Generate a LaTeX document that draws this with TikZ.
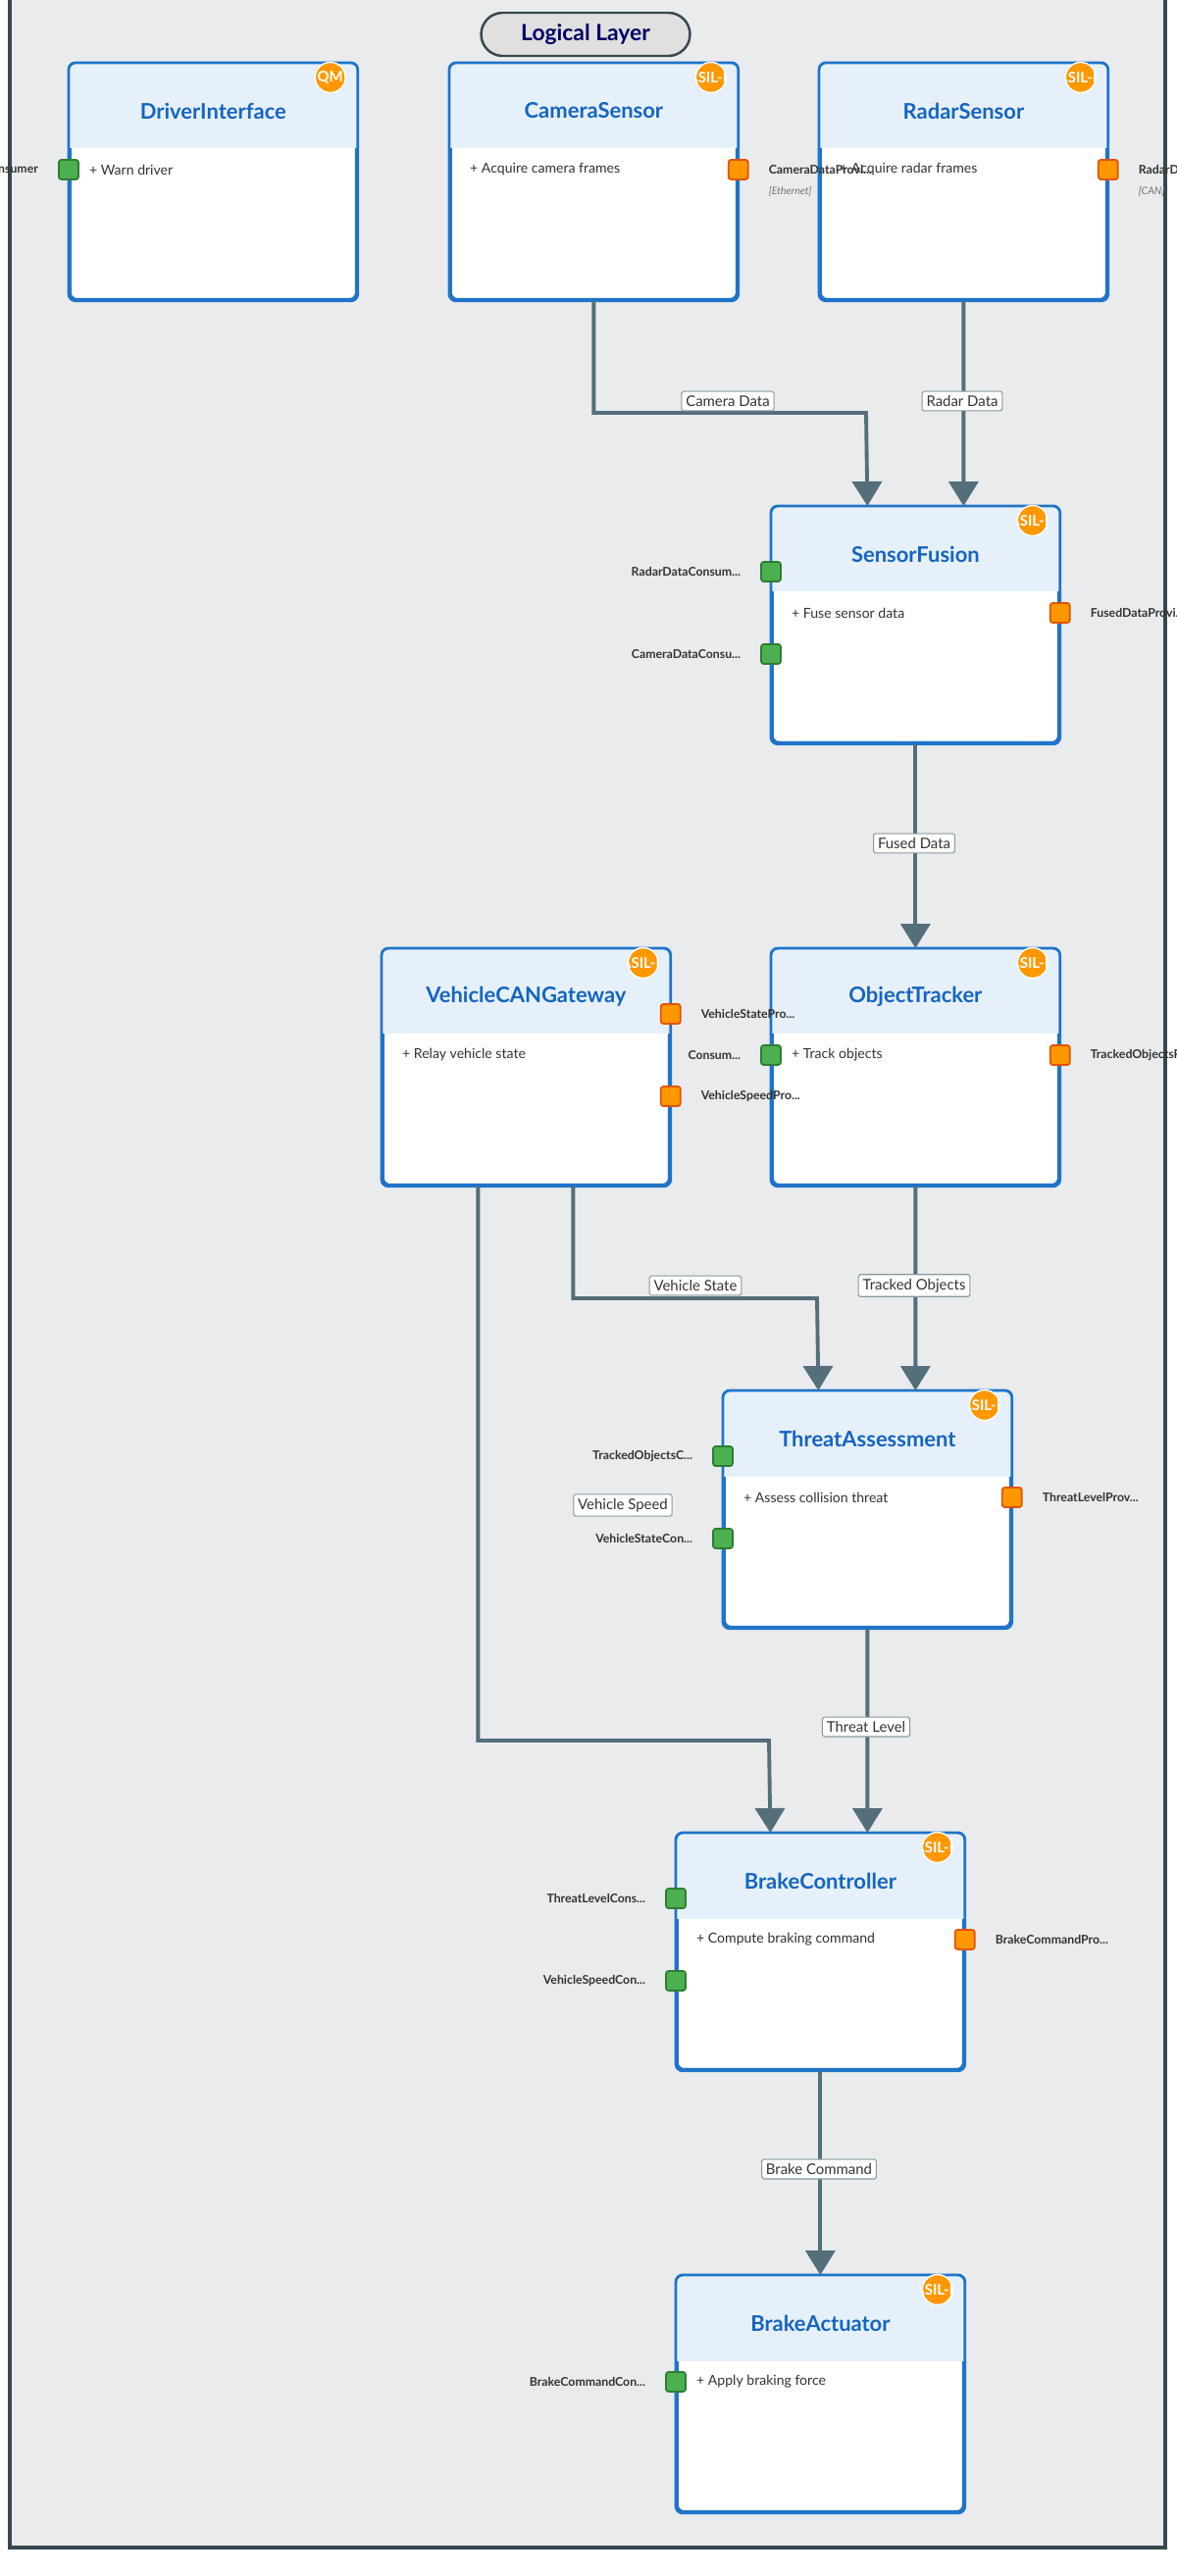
\documentclass[tikz,border=0pt]{standalone}
\usepackage{fontspec}
\setmainfont{Lato}
\usetikzlibrary{arrows.meta,positioning}
\definecolor{layerbg}{HTML}{E9EBED}
\definecolor{frameln}{HTML}{37474F}
\definecolor{boxln}{HTML}{1F74C9}
\definecolor{hdrfill}{HTML}{E6F0FA}
\definecolor{titleblue}{HTML}{1565C0}
\definecolor{edgeln}{HTML}{546E7A}
\definecolor{provfill}{HTML}{FF9800}
\definecolor{provln}{HTML}{E65100}
\definecolor{consfill}{HTML}{4CAF50}
\definecolor{consln}{HTML}{2E7D32}
\definecolor{badge}{HTML}{FF9800}
\tikzset{
  comp/.style={draw=boxln,line width=1.6pt,rounded corners=4pt,fill=white,
    minimum width=5.84cm,minimum height=4.8cm,inner sep=0pt,anchor=north west},
  ctitle/.style={font=\fontsize{12.5}{14}\selectfont\bfseries,text=titleblue},
  cop/.style={font=\fontsize{8}{10}\selectfont,text=black!80,anchor=west},
  prov/.style={draw=provln,fill=provfill,line width=1pt,rounded corners=1.5pt,minimum size=0.4cm,inner sep=0pt},
  cons/.style={draw=consln,fill=consfill,line width=1pt,rounded corners=1.5pt,minimum size=0.4cm,inner sep=0pt},
  plabel/.style={font=\fontsize{7}{8}\selectfont\bfseries,text=black!80},
  ptype/.style={font=\fontsize{6}{7}\selectfont\itshape,text=black!55,anchor=north west},
  flow/.style={draw=edgeln,line width=2.2pt,-{Triangle[width=0.6cm,length=0.5cm]}},
  elabel/.style={draw=edgeln!70,fill=white,rounded corners=1pt,line width=0.6pt,
    font=\fontsize{8.5}{10}\selectfont,text=black!80,inner sep=2.5pt}
}
% component box: name, x, y, title, operation, badge
\newcommand{\comp}[6]{%
  \node[comp] (#1) at (#2,#3) {};
  \begin{scope}
    \clip ([yshift=1cm]#1.north west) rectangle ([yshift=-1.74cm]#1.north east);
    \fill[hdrfill,rounded corners=4pt] (#1.north west) rectangle (#1.south east);
  \end{scope}
  \draw[boxln,line width=1.6pt,rounded corners=4pt] (#1.north west) rectangle (#1.south east);
  \node[ctitle] at ([yshift=-0.98cm]#1.north) {#4};
  \node[cop] at ([xshift=0.3cm,yshift=-2.18cm]#1.north west) {+ #5};
  \begin{scope}
    \clip ([xshift=-0.56cm,yshift=-0.3cm]#1.north east) circle (0.3cm);
    \fill[badge] ([xshift=-0.56cm,yshift=-0.3cm]#1.north east) circle (0.3cm);
    \node[font=\fontsize{8.5}{9}\selectfont\bfseries,text=white] at ([xshift=-0.56cm,yshift=-0.3cm]#1.north east) {#6};
  \end{scope}
  \draw[white,line width=0.8pt] ([xshift=-0.56cm,yshift=-0.3cm]#1.north east) circle (0.31cm);
}

\begin{document}
\begin{tikzpicture}[x=0.02cm,y=-0.02cm]
\useasboundingbox (0,0) rectangle (1200,2627);
\fill[white] (0,0) rectangle (1200,2627);
\draw[frameln,line width=1.8pt,fill=layerbg] (10,-10) rectangle (1188,2598);
\node[draw=frameln,line width=1.4pt,fill=black!12,rounded corners=0.44cm,
  minimum width=4.26cm,minimum height=0.88cm,font=\fontsize{13}{15}\selectfont\bfseries,
  text=blue!40!black] (layer) at (597,35) {Logical Layer};

% components
\comp{drv}{70}{64}{DriverInterface}{Warn driver}{QM}
\comp{cam}{458}{64}{CameraSensor}{Acquire camera frames}{ASIL-D}
\comp{rad}{835}{64}{RadarSensor}{Acquire radar frames}{ASIL-D}
\comp{fus}{786}{516}{SensorFusion}{Fuse sensor data}{ASIL-D}
\comp{obj}{786}{967}{ObjectTracker}{Track objects}{ASIL-D}
\comp{gw}{389}{967}{VehicleCANGateway}{Relay vehicle state}{ASIL-B}
\comp{thr}{737}{1418}{ThreatAssessment}{Assess collision threat}{ASIL-D}
\comp{brc}{689}{1869}{BrakeController}{Compute braking command}{ASIL-D}
\comp{bra}{689}{2320}{BrakeActuator}{Apply braking force}{ASIL-D}

% ports
\node[cons] (drvIn) at ([yshift=-2.18cm]drv.north west) {};
\node[plabel,anchor=east] at ([xshift=-0.28cm]drvIn.west) {DriverWarningConsumer};
\node[prov] (camOut) at ([yshift=-2.18cm]cam.north east) {};
\node[plabel,anchor=west] (camOutL) at ([xshift=0.28cm]camOut.east) {CameraDataProvi...};
\node[ptype] at (camOutL.south west) {[Ethernet]};
\node[prov] (radOut) at ([yshift=-2.18cm]rad.north east) {};
\node[plabel,anchor=west] (radOutL) at ([xshift=0.28cm]radOut.east) {RadarDataProvi...};
\node[ptype] at (radOutL.south west) {[CAN]};
\node[cons] (fusIn1) at ([yshift=-1.34cm]fus.north west) {};
\node[plabel,anchor=east] at ([xshift=-0.28cm]fusIn1.west) {RadarDataConsum...};
\node[cons] (fusIn2) at ([yshift=-3.02cm]fus.north west) {};
\node[plabel,anchor=east] at ([xshift=-0.28cm]fusIn2.west) {CameraDataConsu...};
\node[prov] (fusOut) at ([yshift=-2.18cm]fus.north east) {};
\node[plabel,anchor=west] at ([xshift=0.28cm]fusOut.east) {FusedDataProvi...};
\node[cons] (objIn) at ([yshift=-2.18cm]obj.north west) {};
\node[plabel,anchor=east] at ([xshift=-0.28cm]objIn.west) {Consum...};
\node[prov] (objOut) at ([yshift=-2.18cm]obj.north east) {};
\node[plabel,anchor=west] at ([xshift=0.28cm]objOut.east) {TrackedObjectsProvi...};
\node[prov] (gwOut1) at ([yshift=-1.34cm]gw.north east) {};
\node[plabel,anchor=west] at ([xshift=0.28cm]gwOut1.east) {VehicleStatePro...};
\node[prov] (gwOut2) at ([yshift=-3.02cm]gw.north east) {};
\node[plabel,anchor=west] at ([xshift=0.28cm]gwOut2.east) {VehicleSpeedPro...};
\node[cons] (thrIn1) at ([yshift=-1.34cm]thr.north west) {};
\node[plabel,anchor=east] at ([xshift=-0.28cm]thrIn1.west) {TrackedObjectsC...};
\node[cons] (thrIn2) at ([yshift=-3.02cm]thr.north west) {};
\node[plabel,anchor=east] at ([xshift=-0.28cm]thrIn2.west) {VehicleStateCon...};
\node[prov] (thrOut) at ([yshift=-2.18cm]thr.north east) {};
\node[plabel,anchor=west] at ([xshift=0.28cm]thrOut.east) {ThreatLevelProv...};
\node[cons] (brcIn1) at ([yshift=-1.34cm]brc.north west) {};
\node[plabel,anchor=east] at ([xshift=-0.28cm]brcIn1.west) {ThreatLevelCons...};
\node[cons] (brcIn2) at ([yshift=-3.02cm]brc.north west) {};
\node[plabel,anchor=east] at ([xshift=-0.28cm]brcIn2.west) {VehicleSpeedCon...};
\node[prov] (brcOut) at ([yshift=-2.18cm]brc.north east) {};
\node[plabel,anchor=west] at ([xshift=0.28cm]brcOut.east) {BrakeCommandPro...};
\node[cons] (braIn) at ([yshift=-2.18cm]bra.north west) {};
\node[plabel,anchor=east] at ([xshift=-0.28cm]braIn.west) {BrakeCommandCon...};

% flows
\draw[flow] (cam.south) |- (883,421) -- ([xshift=-0.98cm]fus.north);
\draw[flow] (rad.south) -- ([xshift=0.98cm]fus.north);
\draw[flow] (fus) -- (obj);
\draw[flow] ([xshift=0.96cm]gw.south) |- (833,1324) -- ([xshift=-1cm]thr.north);
\draw[flow] (obj.south) -- ([xshift=0.98cm]thr.north);
\draw[flow] ([xshift=-0.98cm]gw.south) |- (784,1775) -- ([xshift=-1.02cm]brc.north);
\draw[flow] (thr.south) -- ([xshift=0.96cm]brc.north);
\draw[flow] (brc) -- (bra);

% flow labels
\node[elabel] (lCam) at (742,409) {Camera Data};
\node[elabel] (lRad) at (981,409) {Radar Data};
\node[elabel] (lFus) at (932,860) {Fused Data};
\node[elabel] (lState) at (709,1311) {Vehicle State};
\node[elabel] (lTrk) at (932,1311) {Tracked Objects};
\node[elabel] (lSpeed) at (635,1535) {Vehicle Speed};
\node[elabel] (lThr) at (883,1761) {Threat Level};
\node[elabel] (lCmd) at (835,2212) {Brake Command};
\end{tikzpicture}
\end{document}
